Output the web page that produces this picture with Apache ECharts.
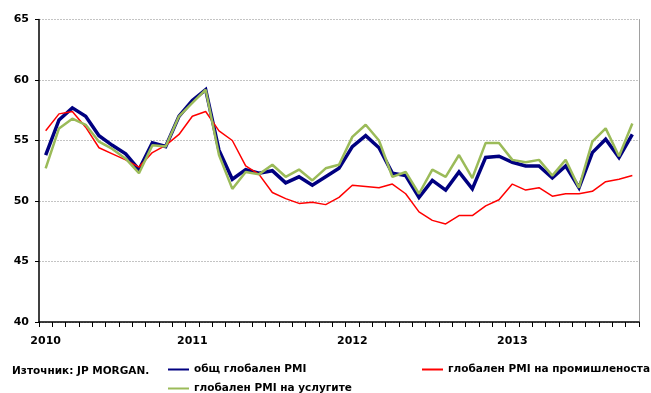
<!DOCTYPE html>
<html>
<head>
<meta charset="utf-8">
<script src="https://cdn.jsdelivr.net/npm/echarts@6/dist/echarts.min.js"></script>
<style>
  html, body { margin: 0; padding: 0; background: #fff; }
  #chart { width: 651px; height: 393px; }
</style>
</head>
<body>
<div id="chart"></div>
<script>
// Monthly periods, Feb 2010 – Oct 2013
const months = [];
for (let y = 2010; y <= 2013; y++) {
  for (let m = 1; m <= 12; m++) {
    if (y === 2010 && m < 2) continue;
    if (y === 2013 && m > 10) continue;
    months.push(y + '-' + String(m).padStart(2, '0'));
  }
}

const seriesNames = [
  'общ глобален PMI',
  'глобален PMI на промишленоста',
  'глобален PMI на услугите'
];

// Composite PMI
const compositePMI = [
  53.8, 56.7, 57.7, 57.0, 55.4, 54.6, 53.9, 52.6, 54.8, 54.5, 57.0,
  58.3, 59.2, 54.2, 51.8, 52.6, 52.3, 52.5, 51.5, 52.0, 51.3, 52.0, 52.7,
  54.5, 55.4, 54.4, 52.3, 52.1, 50.3, 51.7, 50.9, 52.4, 51.0, 53.6, 53.7,
  53.2, 52.9, 52.9, 51.9, 52.9, 51.1, 54.0, 55.1, 53.6, 55.5
];

// Manufacturing PMI
const manufacturingPMI = [
  55.8, 57.2, 57.4, 56.1, 54.4, 53.9, 53.4, 52.8, 54.0, 54.6, 55.5,
  57.0, 57.4, 55.8, 55.0, 52.9, 52.2, 50.7, 50.2, 49.8, 49.9, 49.7, 50.3,
  51.3, 51.2, 51.1, 51.4, 50.6, 49.1, 48.4, 48.1, 48.8, 48.8, 49.6, 50.1,
  51.4, 50.9, 51.1, 50.4, 50.6, 50.6, 50.8, 51.6, 51.8, 52.1
];

// Services PMI
const servicesPMI = [
  52.7, 56.0, 56.8, 56.3, 54.9, 54.3, 53.5, 52.3, 54.6, 54.5, 57.0,
  58.1, 59.2, 53.8, 51.0, 52.4, 52.2, 53.0, 52.0, 52.6, 51.7, 52.7, 53.0,
  55.3, 56.3, 55.0, 52.0, 52.4, 50.6, 52.6, 52.0, 53.8, 51.9, 54.8, 54.8,
  53.4, 53.2, 53.4, 52.1, 53.4, 51.1, 54.9, 56.0, 53.7, 56.4
];

const sourceNote = 'Източник: JP MORGAN.';

const FONT = 'DejaVu Sans';
const labelStyle = { color: '#000', fontWeight: 'bold', fontSize: 11, fontFamily: FONT };

const chart = echarts.init(document.getElementById('chart'), null, { renderer: 'canvas' });

function legendBox(name, left, top) {
  return {
    data: [{ name: name, icon: 'rect' }],
    left: left, top: top,
    itemWidth: 21, itemHeight: 2,
    selectedMode: false,
    textStyle: { color: '#000', fontWeight: 'bold', fontSize: 10.5, fontFamily: FONT },
    padding: 0
  };
}

chart.setOption({
  animation: false,
  backgroundColor: '#fff',
  grid: { left: 39, right: 12, top: 19.5, bottom: 71, containLabel: false },
  xAxis: {
    type: 'category',
    data: months,
    boundaryGap: true,
    axisLine: { lineStyle: { color: '#000', width: 1.5 } },
    axisTick: { show: true, interval: 0, length: 5, lineStyle: { color: '#000' } },
    axisLabel: Object.assign({}, labelStyle, {
      margin: 14,
      interval: function (idx, val) { return idx === 0 || val.slice(5) === '01'; },
      formatter: function (val) { return val.slice(0, 4); }
    }),
    splitLine: { show: false }
  },
  yAxis: [{
    type: 'value',
    min: 40, max: 65, interval: 5,
    axisLine: { show: true, lineStyle: { color: '#000', width: 1.5 } },
    axisTick: { show: true, length: 4, lineStyle: { color: '#000' } },
    axisLabel: Object.assign({}, labelStyle, { margin: 10 }),
    splitLine: { show: true, lineStyle: { color: '#c4c4c4', type: [2, 1], width: 1 } }
  }, {
    type: 'value',
    position: 'right',
    min: 40, max: 65, interval: 5,
    axisLine: { show: true, lineStyle: { color: '#a0a0a0', width: 1 } },
    axisTick: { show: false },
    axisLabel: { show: false },
    splitLine: { show: false }
  }],
  legend: [
    legendBox(seriesNames[0], 168, 364),
    legendBox(seriesNames[1], 422, 364),
    legendBox(seriesNames[2], 168, 383)
  ],
  graphic: [{
    type: 'text',
    left: 12, top: 366,
    style: { text: sourceNote, fill: '#000', font: 'bold 10.5px "DejaVu Sans"' }
  }],
  series: [{
    name: seriesNames[0],
    type: 'line',
    data: compositePMI,
    showSymbol: false,
    symbol: 'none',
    color: '#000080',
    lineStyle: { width: 3.5, color: '#000080', join: 'miter' },
    z: 3
  }, {
    name: seriesNames[1],
    type: 'line',
    data: manufacturingPMI,
    showSymbol: false,
    symbol: 'none',
    color: '#ff0000',
    lineStyle: { width: 1.5, color: '#ff0000' },
    z: 4
  }, {
    name: seriesNames[2],
    type: 'line',
    data: servicesPMI,
    showSymbol: false,
    symbol: 'none',
    color: '#9bbb59',
    lineStyle: { width: 2.5, color: '#9bbb59' },
    z: 5
  }]
});
</script>
</body>
</html>
